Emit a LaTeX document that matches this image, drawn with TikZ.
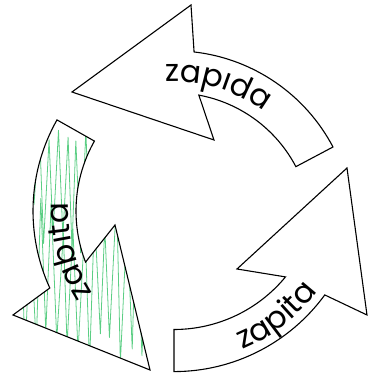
\documentclass[tikz,border=0pt]{standalone}
\usepackage{fontspec}
\newfontfamily\arrowfont{Poppins}
\usetikzlibrary{calc,decorations.text}
\definecolor{scribblegreen}{RGB}{92,206,132}
\tikzset{
  arrowline/.style={draw=black, line width=1.1pt, line join=miter},
  scribble/.style={draw=scribblegreen, line width=0.8pt, line join=round},
  curvedlabel/.style={decorate, decoration={text along path, text align=center,
      text={|\arrowfont\fontsize{31}{36}\selectfont|#1}}},
}

\begin{document}
\begin{tikzpicture}[x=1pt, y=1pt]
  \useasboundingbox (0,0) rectangle (376,375);
  \coordinate (cTop) at (173.7,144.2);
  \coordinate (cRight) at (174,190);
  \coordinate (cLeft) at (218,164);
  % left arrow, scribbled over
  \begin{scope}
    \clip ($(cLeft)+(150.5:185)$) arc (150.5:204.6:185) -- (13,60) -- (150,5) -- (115,150) -- ($(cLeft)+(201.1:142)$) arc (201.1:150.5:142) -- cycle;
    \pgfmathsetseed{11}
    \draw[scribble] (34,170) \foreach \i in {1,...,14} { -- ({34+4.6*\i+2*rnd}, {120+110*mod(\i,2)+30*rnd}) };
    \draw[scribble] (14,60) \foreach \i in {1,...,26} { -- ({14+5.3*\i+2*rnd}, {10+130*mod(\i,2)+40*rnd}) };
  \end{scope}
  \draw[arrowline] ($(cLeft)+(150.5:185)$) arc (150.5:204.6:185) -- (13,60) -- (150,5) -- (115,150) -- ($(cLeft)+(201.1:142)$) arc (201.1:150.5:142) -- cycle;
  % top arrow
  \draw[arrowline] ($(cTop)+(27.75:180)$) arc (27.75:83.5:180) -- (191,370) -- (72,283) -- (214,235) -- ($(cTop)+(79.5:138)$) arc (79.5:27.7:138) -- cycle;
  % bottom right arrow
  \draw[arrowline] ($(cRight)+(-90:186.6)$) arc (-90:-36.1:186.6) -- (367,60) -- (347,207) -- (237,106) -- ($(cRight)+(-39.5:144.5)$) arc (-39.5:-90:144.5) -- cycle;
  % labels along the bands
  \path[curvedlabel=zapıda] ($(cTop)+(113:149.5)$) arc (113:33:149.5);
  \path[curvedlabel=zapita] ($(cRight)+(-92:178.5)$) arc (-92:-12:178.5);
  \path[curvedlabel=zabıta] ($(cLeft)+(235:149.5)$) arc (235:155:149.5);
\end{tikzpicture}
\end{document}
